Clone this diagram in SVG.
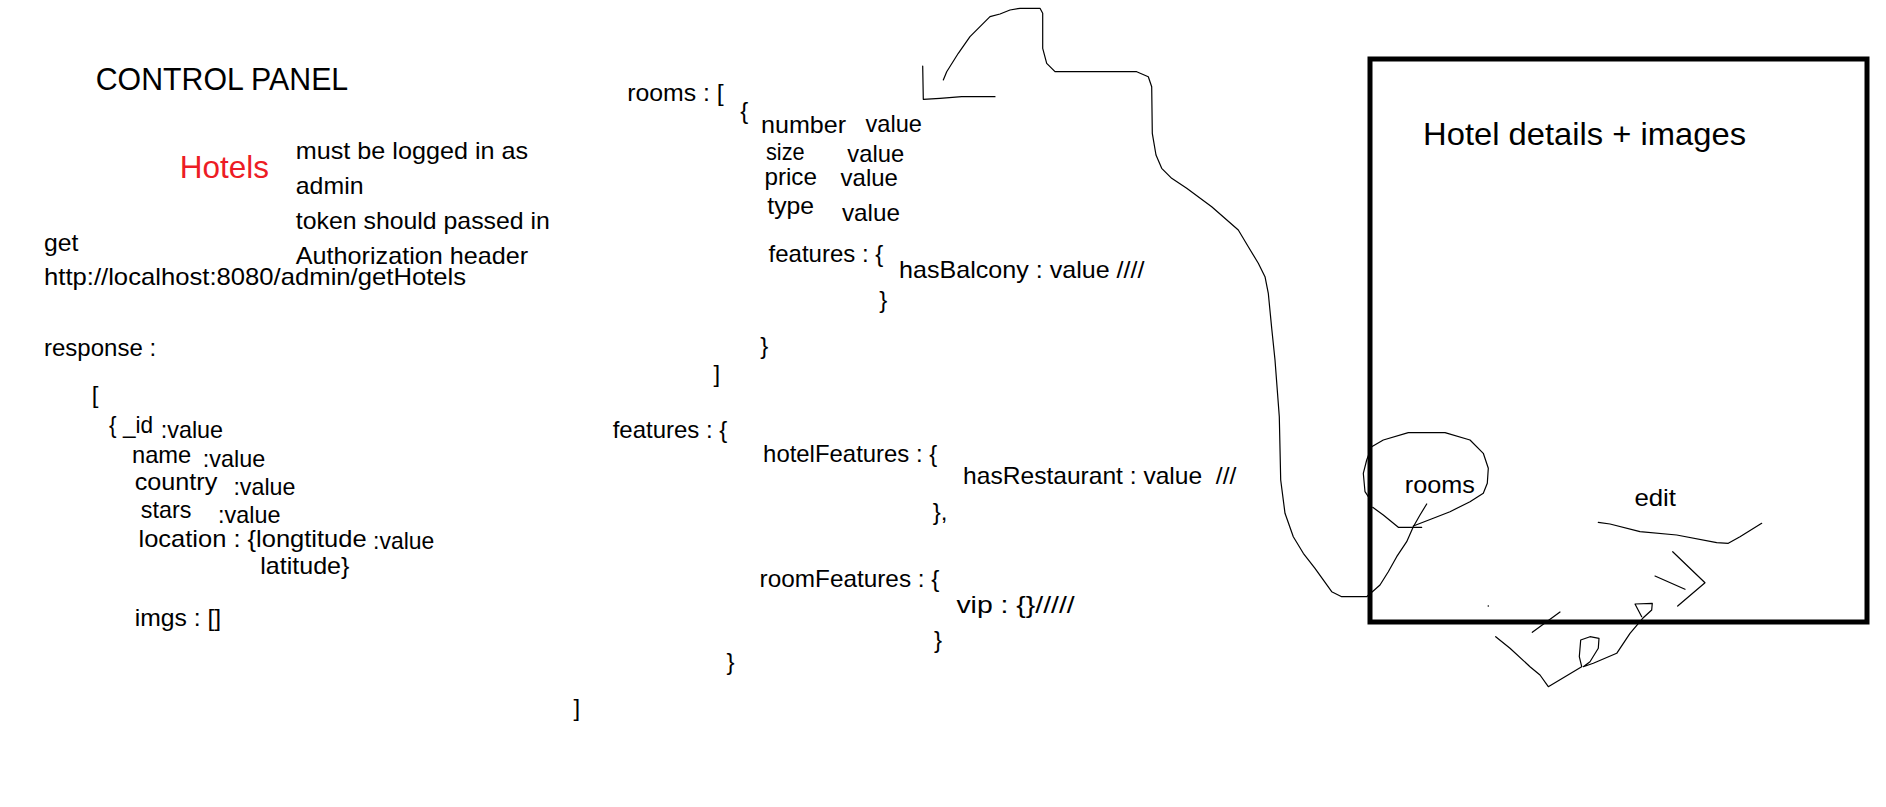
<svg xmlns="http://www.w3.org/2000/svg" width="1886" height="807" viewBox="0 0 1886 807">
<style>
text { font-family: "Liberation Sans", Arial, sans-serif; font-size: 24px; fill: #000; }
.t { font-size: 32px; }
.red { fill: #ED1C24; }
.ink { fill: none; stroke: #000; stroke-width: 1.2; stroke-linejoin: round; stroke-linecap: round; }
.box { fill: none; stroke: #000; stroke-width: 5; }
</style>
<rect width="1886" height="807" fill="#fff"/>

<g id="control-panel">
<text class="t" x="95.7" y="90" textLength="252.5" lengthAdjust="spacingAndGlyphs">CONTROL PANEL</text>
</g>

<g id="hotels">
<text class="t red" x="179.8" y="177.7" textLength="89.2" lengthAdjust="spacingAndGlyphs">Hotels</text>
</g>

<g id="auth-note">
<text x="295.8" y="159.3" textLength="232.3" lengthAdjust="spacingAndGlyphs">must be logged in as</text>
<text x="295.8" y="194.3" textLength="67.7" lengthAdjust="spacingAndGlyphs">admin</text>
<text x="295.8" y="229.3" textLength="254.1" lengthAdjust="spacingAndGlyphs">token should passed in</text>
<text x="295.8" y="264" textLength="232.3" lengthAdjust="spacingAndGlyphs">Authorization header</text>
</g>

<g id="request">
<text x="44" y="250.7" textLength="34.4" lengthAdjust="spacingAndGlyphs">get</text>
<text x="44" y="285" textLength="422.1" lengthAdjust="spacingAndGlyphs">http://localhost:8080/admin/getHotels</text>
</g>

<g id="response">
<text x="44" y="356" textLength="112.1" lengthAdjust="spacingAndGlyphs">response :</text>
<text x="91.8" y="403">[</text>
<text x="109.1" y="433.3" textLength="43.9" lengthAdjust="spacingAndGlyphs">{ _id</text>
<text x="160.7" y="438.3" textLength="62.4" lengthAdjust="spacingAndGlyphs">:value</text>
<text x="132" y="463.3" textLength="59.3" lengthAdjust="spacingAndGlyphs">name</text>
<text x="202.8" y="466.7" textLength="62.4" lengthAdjust="spacingAndGlyphs">:value</text>
<text x="134.7" y="490" textLength="82.6" lengthAdjust="spacingAndGlyphs">country</text>
<text x="233.4" y="495" textLength="62" lengthAdjust="spacingAndGlyphs">:value</text>
<text x="140.8" y="517.7" textLength="50.5" lengthAdjust="spacingAndGlyphs">stars</text>
<text x="218.1" y="522.7" textLength="62.4" lengthAdjust="spacingAndGlyphs">:value</text>
<text x="138.5" y="547.3" textLength="228.1" lengthAdjust="spacingAndGlyphs">location : {longtitude</text>
<text x="373.1" y="549.3" textLength="61.2" lengthAdjust="spacingAndGlyphs">:value</text>
<text x="260.2" y="574" textLength="89.2" lengthAdjust="spacingAndGlyphs">latitude}</text>
<text x="134.7" y="626" textLength="86.5" lengthAdjust="spacingAndGlyphs">imgs : []</text>
</g>

<g id="rooms-schema">
<text x="627.2" y="101" textLength="96.5" lengthAdjust="spacingAndGlyphs">rooms : [</text>
<text x="740.3" y="119">{</text>
<text x="761" y="133.3" textLength="85" lengthAdjust="spacingAndGlyphs">number</text>
<text x="865.5" y="131.7" textLength="56.4" lengthAdjust="spacingAndGlyphs">value</text>
<text x="766" y="160" textLength="38.6" lengthAdjust="spacingAndGlyphs">size</text>
<text x="847.3" y="161.7" textLength="56.8" lengthAdjust="spacingAndGlyphs">value</text>
<text x="764.4" y="185" textLength="52.6" lengthAdjust="spacingAndGlyphs">price</text>
<text x="840.6" y="185.7" textLength="57.3" lengthAdjust="spacingAndGlyphs">value</text>
<text x="767.3" y="214" textLength="46.8" lengthAdjust="spacingAndGlyphs">type</text>
<text x="841.9" y="221" textLength="58" lengthAdjust="spacingAndGlyphs">value</text>
<text x="768.5" y="261.7" textLength="114.8" lengthAdjust="spacingAndGlyphs">features : {</text>
<text x="899.1" y="278.3" textLength="245.4" lengthAdjust="spacingAndGlyphs">hasBalcony : value ////</text>
<text x="879.2" y="308">}</text>
<text x="760.2" y="354">}</text>
<text x="713.4" y="382">]</text>
</g>

<g id="features-schema">
<text x="612.7" y="438.3" textLength="114.7" lengthAdjust="spacingAndGlyphs">features : {</text>
<text x="763.1" y="461.7" textLength="174.1" lengthAdjust="spacingAndGlyphs">hotelFeatures : {</text>
<text x="963.1" y="484.3" textLength="273.2" lengthAdjust="spacingAndGlyphs" style="white-space:pre">hasRestaurant : value  ///</text>
<text x="932.8" y="520">},</text>
<text x="759.6" y="586.7" textLength="179.9" lengthAdjust="spacingAndGlyphs">roomFeatures : {</text>
<text x="956.4" y="613.3" textLength="118.3" lengthAdjust="spacingAndGlyphs">vip : {}/////</text>
<text x="934.1" y="648">}</text>
<text x="726.5" y="670">}</text>
<text x="573.4" y="716">]</text>
</g>

<g id="hotel-details-screen">
<rect class="box" x="1370" y="59" width="497" height="563"/>
<text class="t" x="1423.1" y="145" textLength="322.9" lengthAdjust="spacingAndGlyphs">Hotel details + images</text>
</g>

<g id="rooms-button">
<text x="1404.8" y="493.3" textLength="70" lengthAdjust="spacingAndGlyphs">rooms</text>
<polyline class="ink" points="1368.3,496.7 1365,491.7 1363.3,473.3 1366.7,460 1371.7,446.7 1383.3,440 1408.3,432.7 1445,432.7 1470,440 1483.3,453.3 1488.3,468.3 1487.3,483.3 1483.3,493.3 1470,501.7 1450,511.7 1433.3,518.3 1413.3,526"/>
<polyline class="ink" points="1372.7,507.3 1383.3,515 1398.3,527.3 1421.7,527.3"/>
</g>

<g id="edit-button">
<text x="1634.4" y="506" textLength="41.6" lengthAdjust="spacingAndGlyphs">edit</text>
<polyline class="ink" points="1598.3,522.3 1610,524 1640,531.7 1676.7,535 1716.7,542.7 1728.3,543.3 1740,536.7 1761.7,523.3"/>
<polyline class="ink" points="1672.7,551.7 1705,582.7 1677.7,606"/>
<polyline class="ink" points="1655,576 1685,589.3"/>
</g>

<g id="connectors">
<polyline class="ink" points="922.7,66 923.3,99.3 940,98.3 961.7,96.7 995,96.7"/>
<polyline class="ink" points="943.3,80 946.7,71.7 958.3,53.3 970,36.7 990,16.7 1000,14 1010,10 1020,8.3 1040,8.3 1042.7,13.3 1042.7,48.3 1046.7,63.3 1055,71.7 1136.7,71.7 1148.3,76.7 1151.7,86.7 1152.3,133.3 1156,155 1161.7,168.3 1171.7,178.3 1186.7,188.3 1211.7,206.7 1238.3,230 1248.3,246.7 1258.3,263.3 1265,276.7 1268.3,293.3 1271.7,328.3 1275,360 1279.3,416.7 1280.7,480 1285,513.3 1293.3,536.7 1303.3,553.3 1315,568.3 1331.7,591.7 1341.7,596.7 1366.7,596.7 1380,585 1388.3,571.7 1396.7,556.7 1406.7,541.7 1413.3,526.7 1420,515 1426.7,504"/>
<circle cx="1488.3" cy="606" r="0.8" fill="#000"/>
<polyline class="ink" points="1560,612 1532.3,632.3"/>
<polyline class="ink" points="1495.7,636.7 1510,648.3 1530,666.7 1540,675 1548.3,686.7 1581.7,666.7 1579.3,656.7 1580.7,640 1590,636.7 1599,638.3 1598.3,648.3 1590,661.7 1583.3,666.7 1593.3,663.3 1616.7,653.3 1630,633.3 1642.7,618.3 1651.7,610 1652.3,603.3 1635,604 1641.7,616.7"/>
</g>
</svg>
